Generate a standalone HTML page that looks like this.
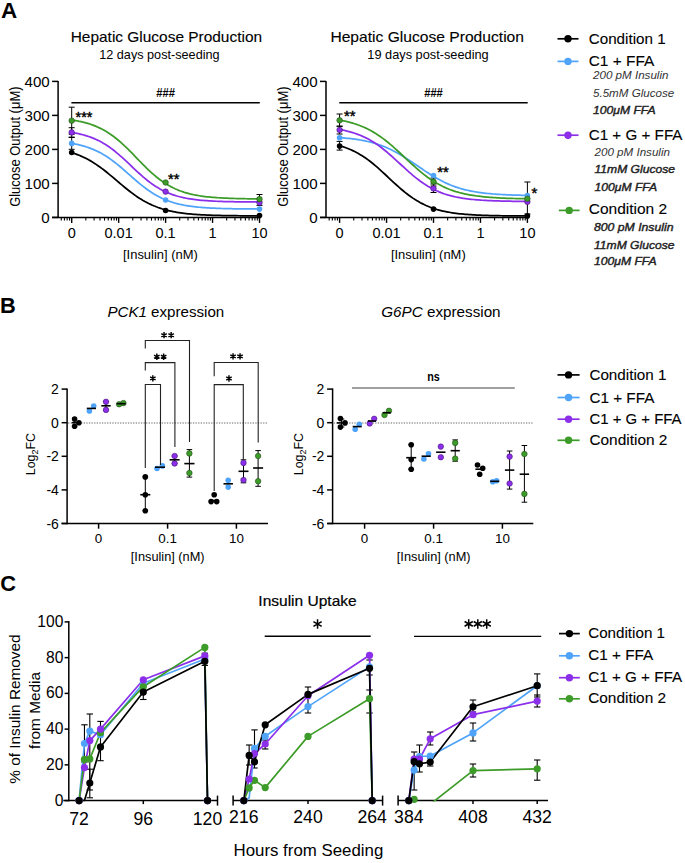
<!DOCTYPE html>
<html><head><meta charset="utf-8"><style>
html,body{margin:0;padding:0;background:#fff;}
svg{display:block;font-family:"Liberation Sans", sans-serif;}
</style></head><body>
<svg width="685" height="863" viewBox="0 0 685 863">
<rect width="685" height="863" fill="#fff"/>
<text x="1.00" y="17.60" font-size="22" text-anchor="start" font-weight="bold" font-style="normal" fill="#000000" textLength="16.2" lengthAdjust="spacingAndGlyphs" >A</text>
<text x="0.10" y="312.50" font-size="21.8" text-anchor="start" font-weight="bold" font-style="normal" fill="#000000" >B</text>
<text x="0.20" y="591.30" font-size="21.8" text-anchor="start" font-weight="bold" font-style="normal" fill="#000000" >C</text>
<text x="70.70" y="41.80" font-size="14.2" text-anchor="start" font-weight="normal" font-style="normal" fill="#000000" textLength="191.4" lengthAdjust="spacingAndGlyphs" stroke="#000" stroke-width="0.12">Hepatic Glucose Production</text>
<text x="99.20" y="58.50" font-size="12.8" text-anchor="start" font-weight="normal" font-style="normal" fill="#000000" textLength="120.4" lengthAdjust="spacingAndGlyphs" >12 days post-seeding</text>
<text transform="translate(20.30,146.70) rotate(-90)" font-size="14" text-anchor="middle" fill="#000000" textLength="120.3" lengthAdjust="spacingAndGlyphs">Glucose Output (μM)</text>
<line x1="58.10" y1="80.90" x2="58.10" y2="218.10" stroke="#000000" stroke-width="1.5" />
<line x1="52.10" y1="217.40" x2="260.20" y2="217.40" stroke="#000000" stroke-width="1.5" />
<line x1="52.10" y1="217.40" x2="58.10" y2="217.40" stroke="#000000" stroke-width="1.5" />
<text x="49.70" y="222.50" font-size="15.1" text-anchor="end" font-weight="normal" font-style="normal" fill="#000000" >0</text>
<line x1="52.10" y1="183.40" x2="58.10" y2="183.40" stroke="#000000" stroke-width="1.5" />
<text x="49.70" y="188.50" font-size="15.1" text-anchor="end" font-weight="normal" font-style="normal" fill="#000000" >100</text>
<line x1="52.10" y1="149.40" x2="58.10" y2="149.40" stroke="#000000" stroke-width="1.5" />
<text x="49.70" y="154.50" font-size="15.1" text-anchor="end" font-weight="normal" font-style="normal" fill="#000000" >200</text>
<line x1="52.10" y1="115.40" x2="58.10" y2="115.40" stroke="#000000" stroke-width="1.5" />
<text x="49.70" y="120.50" font-size="15.1" text-anchor="end" font-weight="normal" font-style="normal" fill="#000000" >300</text>
<line x1="52.10" y1="81.40" x2="58.10" y2="81.40" stroke="#000000" stroke-width="1.5" />
<text x="49.70" y="86.50" font-size="15.1" text-anchor="end" font-weight="normal" font-style="normal" fill="#000000" >400</text>
<line x1="61.28" y1="217.40" x2="61.28" y2="220.60" stroke="#000000" stroke-width="1.1" />
<line x1="64.43" y1="217.40" x2="64.43" y2="220.60" stroke="#000000" stroke-width="1.1" />
<line x1="67.15" y1="217.40" x2="67.15" y2="220.60" stroke="#000000" stroke-width="1.1" />
<line x1="69.55" y1="217.40" x2="69.55" y2="220.60" stroke="#000000" stroke-width="1.1" />
<line x1="71.70" y1="217.40" x2="71.70" y2="222.90" stroke="#000000" stroke-width="1.4" />
<line x1="85.83" y1="217.40" x2="85.83" y2="220.60" stroke="#000000" stroke-width="1.1" />
<line x1="94.10" y1="217.40" x2="94.10" y2="220.60" stroke="#000000" stroke-width="1.1" />
<line x1="99.97" y1="217.40" x2="99.97" y2="220.60" stroke="#000000" stroke-width="1.1" />
<line x1="104.52" y1="217.40" x2="104.52" y2="220.60" stroke="#000000" stroke-width="1.1" />
<line x1="108.23" y1="217.40" x2="108.23" y2="220.60" stroke="#000000" stroke-width="1.1" />
<line x1="111.38" y1="217.40" x2="111.38" y2="220.60" stroke="#000000" stroke-width="1.1" />
<line x1="114.10" y1="217.40" x2="114.10" y2="220.60" stroke="#000000" stroke-width="1.1" />
<line x1="116.50" y1="217.40" x2="116.50" y2="220.60" stroke="#000000" stroke-width="1.1" />
<line x1="118.65" y1="217.40" x2="118.65" y2="222.90" stroke="#000000" stroke-width="1.4" />
<line x1="132.78" y1="217.40" x2="132.78" y2="220.60" stroke="#000000" stroke-width="1.1" />
<line x1="141.05" y1="217.40" x2="141.05" y2="220.60" stroke="#000000" stroke-width="1.1" />
<line x1="146.92" y1="217.40" x2="146.92" y2="220.60" stroke="#000000" stroke-width="1.1" />
<line x1="151.47" y1="217.40" x2="151.47" y2="220.60" stroke="#000000" stroke-width="1.1" />
<line x1="155.18" y1="217.40" x2="155.18" y2="220.60" stroke="#000000" stroke-width="1.1" />
<line x1="158.33" y1="217.40" x2="158.33" y2="220.60" stroke="#000000" stroke-width="1.1" />
<line x1="161.05" y1="217.40" x2="161.05" y2="220.60" stroke="#000000" stroke-width="1.1" />
<line x1="163.45" y1="217.40" x2="163.45" y2="220.60" stroke="#000000" stroke-width="1.1" />
<line x1="165.60" y1="217.40" x2="165.60" y2="222.90" stroke="#000000" stroke-width="1.4" />
<line x1="179.73" y1="217.40" x2="179.73" y2="220.60" stroke="#000000" stroke-width="1.1" />
<line x1="188.00" y1="217.40" x2="188.00" y2="220.60" stroke="#000000" stroke-width="1.1" />
<line x1="193.87" y1="217.40" x2="193.87" y2="220.60" stroke="#000000" stroke-width="1.1" />
<line x1="198.42" y1="217.40" x2="198.42" y2="220.60" stroke="#000000" stroke-width="1.1" />
<line x1="202.13" y1="217.40" x2="202.13" y2="220.60" stroke="#000000" stroke-width="1.1" />
<line x1="205.28" y1="217.40" x2="205.28" y2="220.60" stroke="#000000" stroke-width="1.1" />
<line x1="208.00" y1="217.40" x2="208.00" y2="220.60" stroke="#000000" stroke-width="1.1" />
<line x1="210.40" y1="217.40" x2="210.40" y2="220.60" stroke="#000000" stroke-width="1.1" />
<line x1="212.55" y1="217.40" x2="212.55" y2="222.90" stroke="#000000" stroke-width="1.4" />
<line x1="226.68" y1="217.40" x2="226.68" y2="220.60" stroke="#000000" stroke-width="1.1" />
<line x1="234.95" y1="217.40" x2="234.95" y2="220.60" stroke="#000000" stroke-width="1.1" />
<line x1="240.82" y1="217.40" x2="240.82" y2="220.60" stroke="#000000" stroke-width="1.1" />
<line x1="245.37" y1="217.40" x2="245.37" y2="220.60" stroke="#000000" stroke-width="1.1" />
<line x1="249.08" y1="217.40" x2="249.08" y2="220.60" stroke="#000000" stroke-width="1.1" />
<line x1="252.23" y1="217.40" x2="252.23" y2="220.60" stroke="#000000" stroke-width="1.1" />
<line x1="254.95" y1="217.40" x2="254.95" y2="220.60" stroke="#000000" stroke-width="1.1" />
<line x1="257.35" y1="217.40" x2="257.35" y2="220.60" stroke="#000000" stroke-width="1.1" />
<line x1="259.50" y1="217.40" x2="259.50" y2="222.90" stroke="#000000" stroke-width="1.4" />
<text x="71.70" y="238.00" font-size="14.5" text-anchor="middle" font-weight="normal" font-style="normal" fill="#000000" >0</text>
<text x="118.65" y="238.00" font-size="14.5" text-anchor="middle" font-weight="normal" font-style="normal" fill="#000000" >0.01</text>
<text x="165.60" y="238.00" font-size="14.5" text-anchor="middle" font-weight="normal" font-style="normal" fill="#000000" >0.1</text>
<text x="212.55" y="238.00" font-size="14.5" text-anchor="middle" font-weight="normal" font-style="normal" fill="#000000" >1</text>
<text x="259.50" y="238.00" font-size="14.5" text-anchor="middle" font-weight="normal" font-style="normal" fill="#000000" >10</text>
<text x="160.40" y="258.50" font-size="13.2" text-anchor="middle" font-weight="normal" font-style="normal" fill="#000000" textLength="74.8" lengthAdjust="spacingAndGlyphs" >[Insulin] (nM)</text>
<line x1="71.40" y1="102.70" x2="259.80" y2="102.70" stroke="#000000" stroke-width="1.4" />
<text x="165.60" y="96.60" font-size="12.5" text-anchor="middle" font-weight="bold" font-style="normal" fill="#000000" textLength="18.6" lengthAdjust="spacingAndGlyphs" >###</text>
<line x1="71.70" y1="107.20" x2="71.70" y2="134.20" stroke="#000000" stroke-width="1.0" />
<line x1="68.70" y1="107.20" x2="74.70" y2="107.20" stroke="#000000" stroke-width="1.0" />
<line x1="68.70" y1="134.20" x2="74.70" y2="134.20" stroke="#000000" stroke-width="1.0" />
<line x1="71.70" y1="127.70" x2="71.70" y2="137.10" stroke="#000000" stroke-width="1.0" />
<line x1="68.70" y1="127.70" x2="74.70" y2="127.70" stroke="#000000" stroke-width="1.0" />
<line x1="68.70" y1="137.10" x2="74.70" y2="137.10" stroke="#000000" stroke-width="1.0" />
<line x1="71.70" y1="137.50" x2="71.70" y2="149.30" stroke="#000000" stroke-width="1.0" />
<line x1="68.70" y1="137.50" x2="74.70" y2="137.50" stroke="#000000" stroke-width="1.0" />
<line x1="68.70" y1="149.30" x2="74.70" y2="149.30" stroke="#000000" stroke-width="1.0" />
<line x1="259.50" y1="194.50" x2="259.50" y2="205.40" stroke="#000000" stroke-width="1.0" />
<line x1="256.50" y1="194.50" x2="262.50" y2="194.50" stroke="#000000" stroke-width="1.0" />
<line x1="256.50" y1="205.40" x2="262.50" y2="205.40" stroke="#000000" stroke-width="1.0" />
<path d="M71.70,152.62 L73.58,153.23 L75.46,153.87 L77.33,154.57 L79.21,155.31 L81.09,156.10 L82.97,156.95 L84.85,157.84 L86.72,158.80 L88.60,159.81 L90.48,160.87 L92.36,161.99 L94.24,163.16 L96.11,164.39 L97.99,165.67 L99.87,167.01 L101.75,168.39 L103.63,169.81 L105.50,171.28 L107.38,172.78 L109.26,174.31 L111.14,175.87 L113.02,177.45 L114.89,179.04 L116.77,180.64 L118.65,182.24 L120.53,183.83 L122.41,185.41 L124.28,186.97 L126.16,188.51 L128.04,190.01 L129.92,191.48 L131.80,192.91 L133.67,194.30 L135.55,195.63 L137.43,196.92 L139.31,198.15 L141.19,199.33 L143.06,200.46 L144.94,201.53 L146.82,202.54 L148.70,203.50 L150.58,204.40 L152.45,205.25 L154.33,206.05 L156.21,206.80 L158.09,207.50 L159.97,208.15 L161.84,208.76 L163.72,209.32 L165.60,209.85 L167.48,210.34 L169.36,210.79 L171.23,211.20 L173.11,211.59 L174.99,211.95 L176.87,212.28 L178.75,212.58 L180.62,212.86 L182.50,213.12 L184.38,213.35 L186.26,213.57 L188.14,213.77 L190.01,213.95 L191.89,214.12 L193.77,214.28 L195.65,214.42 L197.53,214.55 L199.40,214.67 L201.28,214.78 L203.16,214.88 L205.04,214.97 L206.92,215.05 L208.79,215.13 L210.67,215.20 L212.55,215.26 L214.43,215.32 L216.31,215.37 L218.18,215.42 L220.06,215.47 L221.94,215.51 L223.82,215.55 L225.70,215.58 L227.57,215.61 L229.45,215.64 L231.33,215.67 L233.21,215.69 L235.09,215.71 L236.96,215.73 L238.84,215.75 L240.72,215.77 L242.60,215.78 L244.48,215.80 L246.35,215.81 L248.23,215.82 L250.11,215.83 L251.99,215.84 L253.87,215.85 L255.74,215.86 L257.62,215.87 L259.50,215.87" fill="none" stroke="#000000" stroke-width="1.75"/>
<path d="M71.70,143.40 L73.58,143.73 L75.46,144.09 L77.33,144.48 L79.21,144.91 L81.09,145.37 L82.97,145.88 L84.85,146.42 L86.72,147.01 L88.60,147.64 L90.48,148.33 L92.36,149.06 L94.24,149.85 L96.11,150.70 L97.99,151.60 L99.87,152.57 L101.75,153.59 L103.63,154.68 L105.50,155.82 L107.38,157.03 L109.26,158.30 L111.14,159.63 L113.02,161.01 L114.89,162.44 L116.77,163.93 L118.65,165.46 L120.53,167.02 L122.41,168.62 L124.28,170.25 L126.16,171.90 L128.04,173.55 L129.92,175.22 L131.80,176.88 L133.67,178.52 L135.55,180.15 L137.43,181.76 L139.31,183.33 L141.19,184.87 L143.06,186.36 L144.94,187.80 L146.82,189.19 L148.70,190.53 L150.58,191.80 L152.45,193.02 L154.33,194.17 L156.21,195.27 L158.09,196.30 L159.97,197.27 L161.84,198.19 L163.72,199.04 L165.60,199.84 L167.48,200.58 L169.36,201.28 L171.23,201.92 L173.11,202.51 L174.99,203.07 L176.87,203.57 L178.75,204.04 L180.62,204.48 L182.50,204.87 L184.38,205.24 L186.26,205.57 L188.14,205.88 L190.01,206.16 L191.89,206.42 L193.77,206.66 L195.65,206.87 L197.53,207.07 L199.40,207.25 L201.28,207.42 L203.16,207.57 L205.04,207.71 L206.92,207.83 L208.79,207.94 L210.67,208.05 L212.55,208.14 L214.43,208.23 L216.31,208.31 L218.18,208.38 L220.06,208.44 L221.94,208.50 L223.82,208.56 L225.70,208.61 L227.57,208.65 L229.45,208.69 L231.33,208.73 L233.21,208.76 L235.09,208.79 L236.96,208.82 L238.84,208.84 L240.72,208.87 L242.60,208.89 L244.48,208.91 L246.35,208.92 L248.23,208.94 L250.11,208.95 L251.99,208.97 L253.87,208.98 L255.74,208.99 L257.62,209.00 L259.50,209.01" fill="none" stroke="#4fa4fa" stroke-width="1.75"/>
<path d="M71.70,132.42 L73.58,132.73 L75.46,133.07 L77.33,133.44 L79.21,133.84 L81.09,134.29 L82.97,134.77 L84.85,135.29 L86.72,135.85 L88.60,136.47 L90.48,137.13 L92.36,137.85 L94.24,138.62 L96.11,139.45 L97.99,140.34 L99.87,141.29 L101.75,142.31 L103.63,143.39 L105.50,144.54 L107.38,145.76 L109.26,147.04 L111.14,148.39 L113.02,149.81 L114.89,151.28 L116.77,152.82 L118.65,154.41 L120.53,156.04 L122.41,157.72 L124.28,159.44 L126.16,161.18 L128.04,162.95 L129.92,164.73 L131.80,166.51 L133.67,168.29 L135.55,170.05 L137.43,171.80 L139.31,173.52 L141.19,175.20 L143.06,176.84 L144.94,178.43 L146.82,179.96 L148.70,181.44 L150.58,182.86 L152.45,184.21 L154.33,185.50 L156.21,186.72 L158.09,187.87 L159.97,188.96 L161.84,189.98 L163.72,190.94 L165.60,191.83 L167.48,192.66 L169.36,193.44 L171.23,194.16 L173.11,194.82 L174.99,195.44 L176.87,196.01 L178.75,196.53 L180.62,197.01 L182.50,197.46 L184.38,197.86 L186.26,198.24 L188.14,198.58 L190.01,198.89 L191.89,199.18 L193.77,199.44 L195.65,199.68 L197.53,199.90 L199.40,200.10 L201.28,200.28 L203.16,200.44 L205.04,200.59 L206.92,200.73 L208.79,200.85 L210.67,200.97 L212.55,201.07 L214.43,201.16 L216.31,201.25 L218.18,201.33 L220.06,201.40 L221.94,201.46 L223.82,201.52 L225.70,201.57 L227.57,201.62 L229.45,201.66 L231.33,201.70 L233.21,201.74 L235.09,201.77 L236.96,201.80 L238.84,201.83 L240.72,201.85 L242.60,201.87 L244.48,201.89 L246.35,201.91 L248.23,201.93 L250.11,201.94 L251.99,201.96 L253.87,201.97 L255.74,201.98 L257.62,201.99 L259.50,202.00" fill="none" stroke="#8b2fea" stroke-width="1.75"/>
<path d="M71.70,120.03 L73.58,120.31 L75.46,120.62 L77.33,120.96 L79.21,121.32 L81.09,121.72 L82.97,122.15 L84.85,122.63 L86.72,123.14 L88.60,123.69 L90.48,124.29 L92.36,124.94 L94.24,125.64 L96.11,126.40 L97.99,127.21 L99.87,128.09 L101.75,129.02 L103.63,130.03 L105.50,131.10 L107.38,132.23 L109.26,133.44 L111.14,134.72 L113.02,136.07 L114.89,137.49 L116.77,138.98 L118.65,140.54 L120.53,142.16 L122.41,143.85 L124.28,145.59 L126.16,147.38 L128.04,149.21 L129.92,151.09 L131.80,152.99 L133.67,154.92 L135.55,156.86 L137.43,158.80 L139.31,160.74 L141.19,162.68 L143.06,164.59 L144.94,166.47 L146.82,168.31 L148.70,170.11 L150.58,171.87 L152.45,173.56 L154.33,175.20 L156.21,176.78 L158.09,178.28 L159.97,179.72 L161.84,181.09 L163.72,182.39 L165.60,183.61 L167.48,184.77 L169.36,185.86 L171.23,186.87 L173.11,187.83 L174.99,188.72 L176.87,189.55 L178.75,190.32 L180.62,191.03 L182.50,191.69 L184.38,192.31 L186.26,192.87 L188.14,193.39 L190.01,193.88 L191.89,194.32 L193.77,194.73 L195.65,195.10 L197.53,195.44 L199.40,195.76 L201.28,196.05 L203.16,196.31 L205.04,196.55 L206.92,196.77 L208.79,196.98 L210.67,197.16 L212.55,197.33 L214.43,197.48 L216.31,197.63 L218.18,197.75 L220.06,197.87 L221.94,197.98 L223.82,198.08 L225.70,198.16 L227.57,198.24 L229.45,198.32 L231.33,198.39 L233.21,198.45 L235.09,198.50 L236.96,198.55 L238.84,198.60 L240.72,198.64 L242.60,198.68 L244.48,198.71 L246.35,198.75 L248.23,198.78 L250.11,198.80 L251.99,198.83 L253.87,198.85 L255.74,198.87 L257.62,198.88 L259.50,198.90" fill="none" stroke="#3d9c29" stroke-width="1.75"/>
<circle cx="71.70" cy="152.50" r="2.8" fill="#000000"/>
<circle cx="165.60" cy="210.50" r="2.8" fill="#000000"/>
<circle cx="259.50" cy="215.60" r="2.8" fill="#000000"/>
<circle cx="71.70" cy="143.40" r="2.8" fill="#4fa4fa"/>
<circle cx="165.60" cy="200.00" r="2.8" fill="#4fa4fa"/>
<circle cx="259.50" cy="209.10" r="2.8" fill="#4fa4fa"/>
<circle cx="71.70" cy="132.40" r="2.8" fill="#8b2fea" stroke="#3a1060" stroke-width="0.5"/>
<circle cx="165.60" cy="191.60" r="2.8" fill="#8b2fea" stroke="#3a1060" stroke-width="0.5"/>
<circle cx="259.50" cy="202.60" r="2.8" fill="#8b2fea" stroke="#3a1060" stroke-width="0.5"/>
<circle cx="71.70" cy="120.70" r="2.8" fill="#3d9c29" stroke="#1a3d10" stroke-width="0.5"/>
<circle cx="165.60" cy="182.50" r="2.8" fill="#3d9c29" stroke="#1a3d10" stroke-width="0.5"/>
<circle cx="259.50" cy="199.10" r="2.8" fill="#3d9c29" stroke="#1a3d10" stroke-width="0.5"/>
<text x="75.60" y="121.70" font-size="14.3" text-anchor="start" font-weight="normal" font-style="normal" fill="#000000" stroke="#000" stroke-width="0.45">***</text>
<text x="168.00" y="184.10" font-size="14.6" text-anchor="start" font-weight="normal" font-style="normal" fill="#000000" stroke="#000" stroke-width="0.45">**</text>
<text x="330.40" y="41.80" font-size="14.2" text-anchor="start" font-weight="normal" font-style="normal" fill="#000000" textLength="193.6" lengthAdjust="spacingAndGlyphs" stroke="#000" stroke-width="0.12">Hepatic Glucose Production</text>
<text x="367.30" y="58.50" font-size="12.8" text-anchor="start" font-weight="normal" font-style="normal" fill="#000000" textLength="121.4" lengthAdjust="spacingAndGlyphs" >19 days post-seeding</text>
<text transform="translate(287.66,146.70) rotate(-90)" font-size="14" text-anchor="middle" fill="#000000" textLength="120.3" lengthAdjust="spacingAndGlyphs">Glucose Output (μM)</text>
<line x1="326.00" y1="80.90" x2="326.00" y2="218.10" stroke="#000000" stroke-width="1.5" />
<line x1="320.00" y1="217.40" x2="528.10" y2="217.40" stroke="#000000" stroke-width="1.5" />
<line x1="320.00" y1="217.40" x2="326.00" y2="217.40" stroke="#000000" stroke-width="1.5" />
<text x="317.60" y="222.50" font-size="15.1" text-anchor="end" font-weight="normal" font-style="normal" fill="#000000" >0</text>
<line x1="320.00" y1="183.40" x2="326.00" y2="183.40" stroke="#000000" stroke-width="1.5" />
<text x="317.60" y="188.50" font-size="15.1" text-anchor="end" font-weight="normal" font-style="normal" fill="#000000" >100</text>
<line x1="320.00" y1="149.40" x2="326.00" y2="149.40" stroke="#000000" stroke-width="1.5" />
<text x="317.60" y="154.50" font-size="15.1" text-anchor="end" font-weight="normal" font-style="normal" fill="#000000" >200</text>
<line x1="320.00" y1="115.40" x2="326.00" y2="115.40" stroke="#000000" stroke-width="1.5" />
<text x="317.60" y="120.50" font-size="15.1" text-anchor="end" font-weight="normal" font-style="normal" fill="#000000" >300</text>
<line x1="320.00" y1="81.40" x2="326.00" y2="81.40" stroke="#000000" stroke-width="1.5" />
<text x="317.60" y="86.50" font-size="15.1" text-anchor="end" font-weight="normal" font-style="normal" fill="#000000" >400</text>
<line x1="329.18" y1="217.40" x2="329.18" y2="220.60" stroke="#000000" stroke-width="1.1" />
<line x1="332.33" y1="217.40" x2="332.33" y2="220.60" stroke="#000000" stroke-width="1.1" />
<line x1="335.05" y1="217.40" x2="335.05" y2="220.60" stroke="#000000" stroke-width="1.1" />
<line x1="337.45" y1="217.40" x2="337.45" y2="220.60" stroke="#000000" stroke-width="1.1" />
<line x1="339.60" y1="217.40" x2="339.60" y2="222.90" stroke="#000000" stroke-width="1.4" />
<line x1="353.73" y1="217.40" x2="353.73" y2="220.60" stroke="#000000" stroke-width="1.1" />
<line x1="362.00" y1="217.40" x2="362.00" y2="220.60" stroke="#000000" stroke-width="1.1" />
<line x1="367.87" y1="217.40" x2="367.87" y2="220.60" stroke="#000000" stroke-width="1.1" />
<line x1="372.42" y1="217.40" x2="372.42" y2="220.60" stroke="#000000" stroke-width="1.1" />
<line x1="376.13" y1="217.40" x2="376.13" y2="220.60" stroke="#000000" stroke-width="1.1" />
<line x1="379.28" y1="217.40" x2="379.28" y2="220.60" stroke="#000000" stroke-width="1.1" />
<line x1="382.00" y1="217.40" x2="382.00" y2="220.60" stroke="#000000" stroke-width="1.1" />
<line x1="384.40" y1="217.40" x2="384.40" y2="220.60" stroke="#000000" stroke-width="1.1" />
<line x1="386.55" y1="217.40" x2="386.55" y2="222.90" stroke="#000000" stroke-width="1.4" />
<line x1="400.68" y1="217.40" x2="400.68" y2="220.60" stroke="#000000" stroke-width="1.1" />
<line x1="408.95" y1="217.40" x2="408.95" y2="220.60" stroke="#000000" stroke-width="1.1" />
<line x1="414.82" y1="217.40" x2="414.82" y2="220.60" stroke="#000000" stroke-width="1.1" />
<line x1="419.37" y1="217.40" x2="419.37" y2="220.60" stroke="#000000" stroke-width="1.1" />
<line x1="423.08" y1="217.40" x2="423.08" y2="220.60" stroke="#000000" stroke-width="1.1" />
<line x1="426.23" y1="217.40" x2="426.23" y2="220.60" stroke="#000000" stroke-width="1.1" />
<line x1="428.95" y1="217.40" x2="428.95" y2="220.60" stroke="#000000" stroke-width="1.1" />
<line x1="431.35" y1="217.40" x2="431.35" y2="220.60" stroke="#000000" stroke-width="1.1" />
<line x1="433.50" y1="217.40" x2="433.50" y2="222.90" stroke="#000000" stroke-width="1.4" />
<line x1="447.63" y1="217.40" x2="447.63" y2="220.60" stroke="#000000" stroke-width="1.1" />
<line x1="455.90" y1="217.40" x2="455.90" y2="220.60" stroke="#000000" stroke-width="1.1" />
<line x1="461.77" y1="217.40" x2="461.77" y2="220.60" stroke="#000000" stroke-width="1.1" />
<line x1="466.32" y1="217.40" x2="466.32" y2="220.60" stroke="#000000" stroke-width="1.1" />
<line x1="470.03" y1="217.40" x2="470.03" y2="220.60" stroke="#000000" stroke-width="1.1" />
<line x1="473.18" y1="217.40" x2="473.18" y2="220.60" stroke="#000000" stroke-width="1.1" />
<line x1="475.90" y1="217.40" x2="475.90" y2="220.60" stroke="#000000" stroke-width="1.1" />
<line x1="478.30" y1="217.40" x2="478.30" y2="220.60" stroke="#000000" stroke-width="1.1" />
<line x1="480.45" y1="217.40" x2="480.45" y2="222.90" stroke="#000000" stroke-width="1.4" />
<line x1="494.58" y1="217.40" x2="494.58" y2="220.60" stroke="#000000" stroke-width="1.1" />
<line x1="502.85" y1="217.40" x2="502.85" y2="220.60" stroke="#000000" stroke-width="1.1" />
<line x1="508.72" y1="217.40" x2="508.72" y2="220.60" stroke="#000000" stroke-width="1.1" />
<line x1="513.27" y1="217.40" x2="513.27" y2="220.60" stroke="#000000" stroke-width="1.1" />
<line x1="516.98" y1="217.40" x2="516.98" y2="220.60" stroke="#000000" stroke-width="1.1" />
<line x1="520.13" y1="217.40" x2="520.13" y2="220.60" stroke="#000000" stroke-width="1.1" />
<line x1="522.85" y1="217.40" x2="522.85" y2="220.60" stroke="#000000" stroke-width="1.1" />
<line x1="525.25" y1="217.40" x2="525.25" y2="220.60" stroke="#000000" stroke-width="1.1" />
<line x1="527.40" y1="217.40" x2="527.40" y2="222.90" stroke="#000000" stroke-width="1.4" />
<text x="339.60" y="238.00" font-size="14.5" text-anchor="middle" font-weight="normal" font-style="normal" fill="#000000" >0</text>
<text x="386.55" y="238.00" font-size="14.5" text-anchor="middle" font-weight="normal" font-style="normal" fill="#000000" >0.01</text>
<text x="433.50" y="238.00" font-size="14.5" text-anchor="middle" font-weight="normal" font-style="normal" fill="#000000" >0.1</text>
<text x="480.45" y="238.00" font-size="14.5" text-anchor="middle" font-weight="normal" font-style="normal" fill="#000000" >1</text>
<text x="527.40" y="238.00" font-size="14.5" text-anchor="middle" font-weight="normal" font-style="normal" fill="#000000" >10</text>
<text x="428.30" y="258.50" font-size="13.2" text-anchor="middle" font-weight="normal" font-style="normal" fill="#000000" textLength="74.8" lengthAdjust="spacingAndGlyphs" >[Insulin] (nM)</text>
<line x1="339.30" y1="102.70" x2="527.70" y2="102.70" stroke="#000000" stroke-width="1.4" />
<text x="433.50" y="96.60" font-size="12.5" text-anchor="middle" font-weight="bold" font-style="normal" fill="#000000" textLength="18.6" lengthAdjust="spacingAndGlyphs" >###</text>
<line x1="339.60" y1="114.00" x2="339.60" y2="126.60" stroke="#000000" stroke-width="1.0" />
<line x1="336.60" y1="114.00" x2="342.60" y2="114.00" stroke="#000000" stroke-width="1.0" />
<line x1="336.60" y1="126.60" x2="342.60" y2="126.60" stroke="#000000" stroke-width="1.0" />
<line x1="339.60" y1="126.00" x2="339.60" y2="134.00" stroke="#000000" stroke-width="1.0" />
<line x1="336.60" y1="126.00" x2="342.60" y2="126.00" stroke="#000000" stroke-width="1.0" />
<line x1="336.60" y1="134.00" x2="342.60" y2="134.00" stroke="#000000" stroke-width="1.0" />
<line x1="339.60" y1="141.40" x2="339.60" y2="150.10" stroke="#000000" stroke-width="1.0" />
<line x1="336.60" y1="141.40" x2="342.60" y2="141.40" stroke="#000000" stroke-width="1.0" />
<line x1="336.60" y1="150.10" x2="342.60" y2="150.10" stroke="#000000" stroke-width="1.0" />
<line x1="433.50" y1="178.00" x2="433.50" y2="186.00" stroke="#000000" stroke-width="1.0" />
<line x1="430.50" y1="178.00" x2="436.50" y2="178.00" stroke="#000000" stroke-width="1.0" />
<line x1="430.50" y1="186.00" x2="436.50" y2="186.00" stroke="#000000" stroke-width="1.0" />
<line x1="433.50" y1="184.00" x2="433.50" y2="192.50" stroke="#000000" stroke-width="1.0" />
<line x1="430.50" y1="184.00" x2="436.50" y2="184.00" stroke="#000000" stroke-width="1.0" />
<line x1="430.50" y1="192.50" x2="436.50" y2="192.50" stroke="#000000" stroke-width="1.0" />
<line x1="527.40" y1="182.00" x2="527.40" y2="214.00" stroke="#000000" stroke-width="1.0" />
<line x1="524.40" y1="182.00" x2="530.40" y2="182.00" stroke="#000000" stroke-width="1.0" />
<line x1="524.40" y1="214.00" x2="530.40" y2="214.00" stroke="#000000" stroke-width="1.0" />
<path d="M339.60,145.72 L341.48,146.28 L343.36,146.88 L345.23,147.53 L347.11,148.23 L348.99,148.98 L350.87,149.78 L352.75,150.64 L354.62,151.55 L356.50,152.53 L358.38,153.56 L360.26,154.66 L362.14,155.82 L364.01,157.04 L365.89,158.32 L367.77,159.66 L369.65,161.07 L371.53,162.53 L373.40,164.04 L375.28,165.60 L377.16,167.21 L379.04,168.87 L380.92,170.55 L382.79,172.27 L384.67,174.01 L386.55,175.76 L388.43,177.52 L390.31,179.28 L392.18,181.04 L394.06,182.78 L395.94,184.50 L397.82,186.19 L399.70,187.85 L401.57,189.47 L403.45,191.04 L405.33,192.57 L407.21,194.04 L409.09,195.45 L410.96,196.81 L412.84,198.11 L414.72,199.34 L416.60,200.51 L418.48,201.62 L420.35,202.67 L422.23,203.65 L424.11,204.58 L425.99,205.45 L427.87,206.26 L429.74,207.02 L431.62,207.73 L433.50,208.39 L435.38,209.00 L437.26,209.57 L439.13,210.09 L441.01,210.58 L442.89,211.03 L444.77,211.44 L446.65,211.83 L448.52,212.18 L450.40,212.51 L452.28,212.80 L454.16,213.08 L456.04,213.33 L457.91,213.56 L459.79,213.78 L461.67,213.97 L463.55,214.15 L465.43,214.32 L467.30,214.47 L469.18,214.60 L471.06,214.73 L472.94,214.84 L474.82,214.95 L476.69,215.05 L478.57,215.13 L480.45,215.21 L482.33,215.29 L484.21,215.36 L486.08,215.42 L487.96,215.47 L489.84,215.52 L491.72,215.57 L493.60,215.61 L495.47,215.65 L497.35,215.69 L499.23,215.72 L501.11,215.75 L502.99,215.78 L504.86,215.80 L506.74,215.83 L508.62,215.85 L510.50,215.87 L512.38,215.88 L514.25,215.90 L516.13,215.91 L518.01,215.93 L519.89,215.94 L521.77,215.95 L523.64,215.96 L525.52,215.97 L527.40,215.98" fill="none" stroke="#000000" stroke-width="1.75"/>
<path d="M339.60,137.62 L341.48,137.76 L343.36,137.92 L345.23,138.08 L347.11,138.27 L348.99,138.46 L350.87,138.67 L352.75,138.90 L354.62,139.15 L356.50,139.42 L358.38,139.70 L360.26,140.01 L362.14,140.35 L364.01,140.71 L365.89,141.10 L367.77,141.51 L369.65,141.96 L371.53,142.44 L373.40,142.95 L375.28,143.50 L377.16,144.09 L379.04,144.71 L380.92,145.37 L382.79,146.07 L384.67,146.81 L386.55,147.60 L388.43,148.43 L390.31,149.30 L392.18,150.21 L394.06,151.17 L395.94,152.16 L397.82,153.20 L399.70,154.28 L401.57,155.39 L403.45,156.54 L405.33,157.72 L407.21,158.92 L409.09,160.15 L410.96,161.40 L412.84,162.67 L414.72,163.95 L416.60,165.24 L418.48,166.53 L420.35,167.81 L422.23,169.09 L424.11,170.36 L425.99,171.61 L427.87,172.84 L429.74,174.05 L431.62,175.23 L433.50,176.38 L435.38,177.49 L437.26,178.56 L439.13,179.60 L441.01,180.60 L442.89,181.55 L444.77,182.47 L446.65,183.34 L448.52,184.17 L450.40,184.95 L452.28,185.69 L454.16,186.40 L456.04,187.06 L457.91,187.68 L459.79,188.26 L461.67,188.81 L463.55,189.32 L465.43,189.80 L467.30,190.25 L469.18,190.67 L471.06,191.06 L472.94,191.42 L474.82,191.75 L476.69,192.06 L478.57,192.35 L480.45,192.62 L482.33,192.87 L484.21,193.09 L486.08,193.31 L487.96,193.50 L489.84,193.68 L491.72,193.85 L493.60,194.00 L495.47,194.14 L497.35,194.27 L499.23,194.39 L501.11,194.50 L502.99,194.61 L504.86,194.70 L506.74,194.79 L508.62,194.87 L510.50,194.94 L512.38,195.01 L514.25,195.07 L516.13,195.12 L518.01,195.18 L519.89,195.22 L521.77,195.27 L523.64,195.31 L525.52,195.35 L527.40,195.38" fill="none" stroke="#4fa4fa" stroke-width="1.75"/>
<path d="M339.60,129.51 L341.48,129.86 L343.36,130.23 L345.23,130.64 L347.11,131.08 L348.99,131.55 L350.87,132.07 L352.75,132.62 L354.62,133.22 L356.50,133.86 L358.38,134.56 L360.26,135.30 L362.14,136.09 L364.01,136.94 L365.89,137.85 L367.77,138.81 L369.65,139.84 L371.53,140.92 L373.40,142.07 L375.28,143.28 L377.16,144.55 L379.04,145.88 L380.92,147.26 L382.79,148.71 L384.67,150.20 L386.55,151.75 L388.43,153.34 L390.31,154.97 L392.18,156.63 L394.06,158.33 L395.94,160.04 L397.82,161.77 L399.70,163.51 L401.57,165.25 L403.45,166.98 L405.33,168.70 L407.21,170.40 L409.09,172.07 L410.96,173.70 L412.84,175.30 L414.72,176.85 L416.60,178.36 L418.48,179.81 L420.35,181.20 L422.23,182.54 L424.11,183.82 L425.99,185.03 L427.87,186.19 L429.74,187.28 L431.62,188.32 L433.50,189.29 L435.38,190.21 L437.26,191.07 L439.13,191.87 L441.01,192.62 L442.89,193.32 L444.77,193.97 L446.65,194.57 L448.52,195.14 L450.40,195.66 L452.28,196.14 L454.16,196.58 L456.04,196.99 L457.91,197.37 L459.79,197.72 L461.67,198.04 L463.55,198.34 L465.43,198.61 L467.30,198.86 L469.18,199.09 L471.06,199.30 L472.94,199.50 L474.82,199.67 L476.69,199.84 L478.57,199.99 L480.45,200.12 L482.33,200.25 L484.21,200.36 L486.08,200.47 L487.96,200.56 L489.84,200.65 L491.72,200.73 L493.60,200.80 L495.47,200.87 L497.35,200.93 L499.23,200.99 L501.11,201.04 L502.99,201.08 L504.86,201.13 L506.74,201.16 L508.62,201.20 L510.50,201.23 L512.38,201.26 L514.25,201.29 L516.13,201.31 L518.01,201.34 L519.89,201.36 L521.77,201.38 L523.64,201.39 L525.52,201.41 L527.40,201.42" fill="none" stroke="#8b2fea" stroke-width="1.75"/>
<path d="M339.60,120.10 L341.48,120.45 L343.36,120.82 L345.23,121.22 L347.11,121.66 L348.99,122.12 L350.87,122.62 L352.75,123.16 L354.62,123.74 L356.50,124.36 L358.38,125.02 L360.26,125.73 L362.14,126.48 L364.01,127.29 L365.89,128.15 L367.77,129.06 L369.65,130.02 L371.53,131.04 L373.40,132.12 L375.28,133.25 L377.16,134.45 L379.04,135.70 L380.92,137.01 L382.79,138.37 L384.67,139.79 L386.55,141.26 L388.43,142.78 L390.31,144.35 L392.18,145.96 L394.06,147.61 L395.94,149.29 L397.82,151.00 L399.70,152.74 L401.57,154.49 L403.45,156.25 L405.33,158.02 L407.21,159.78 L409.09,161.54 L410.96,163.28 L412.84,165.01 L414.72,166.70 L416.60,168.37 L418.48,170.00 L420.35,171.58 L422.23,173.13 L424.11,174.62 L425.99,176.06 L427.87,177.45 L429.74,178.79 L431.62,180.06 L433.50,181.28 L435.38,182.44 L437.26,183.54 L439.13,184.59 L441.01,185.58 L442.89,186.52 L444.77,187.40 L446.65,188.22 L448.52,189.00 L450.40,189.73 L452.28,190.41 L454.16,191.05 L456.04,191.65 L457.91,192.20 L459.79,192.72 L461.67,193.20 L463.55,193.65 L465.43,194.07 L467.30,194.45 L469.18,194.81 L471.06,195.14 L472.94,195.45 L474.82,195.73 L476.69,196.00 L478.57,196.24 L480.45,196.46 L482.33,196.67 L484.21,196.86 L486.08,197.04 L487.96,197.20 L489.84,197.35 L491.72,197.49 L493.60,197.61 L495.47,197.73 L497.35,197.84 L499.23,197.94 L501.11,198.03 L502.99,198.11 L504.86,198.19 L506.74,198.26 L508.62,198.33 L510.50,198.39 L512.38,198.45 L514.25,198.50 L516.13,198.54 L518.01,198.59 L519.89,198.63 L521.77,198.66 L523.64,198.70 L525.52,198.73 L527.40,198.75" fill="none" stroke="#3d9c29" stroke-width="1.75"/>
<circle cx="339.60" cy="146.10" r="2.8" fill="#000000"/>
<circle cx="433.50" cy="209.10" r="2.8" fill="#000000"/>
<circle cx="527.40" cy="215.90" r="2.8" fill="#000000"/>
<circle cx="339.60" cy="137.80" r="2.8" fill="#4fa4fa"/>
<circle cx="433.50" cy="175.50" r="2.8" fill="#4fa4fa"/>
<circle cx="527.40" cy="195.50" r="2.8" fill="#4fa4fa"/>
<circle cx="339.60" cy="130.00" r="2.8" fill="#8b2fea" stroke="#3a1060" stroke-width="0.5"/>
<circle cx="433.50" cy="188.50" r="2.8" fill="#8b2fea" stroke="#3a1060" stroke-width="0.5"/>
<circle cx="527.40" cy="201.80" r="2.8" fill="#8b2fea" stroke="#3a1060" stroke-width="0.5"/>
<circle cx="339.60" cy="120.30" r="2.8" fill="#3d9c29" stroke="#1a3d10" stroke-width="0.5"/>
<circle cx="433.50" cy="181.60" r="2.8" fill="#3d9c29" stroke="#1a3d10" stroke-width="0.5"/>
<circle cx="527.40" cy="198.70" r="2.8" fill="#3d9c29" stroke="#1a3d10" stroke-width="0.5"/>
<text x="343.90" y="121.30" font-size="14.8" text-anchor="start" font-weight="normal" font-style="normal" fill="#000000" stroke="#000" stroke-width="0.45">**</text>
<text x="437.20" y="177.40" font-size="14.8" text-anchor="start" font-weight="normal" font-style="normal" fill="#000000" stroke="#000" stroke-width="0.45">**</text>
<text x="531.60" y="197.60" font-size="14.8" text-anchor="start" font-weight="normal" font-style="normal" fill="#000000" stroke="#000" stroke-width="0.45">*</text>
<line x1="557.50" y1="38.80" x2="578.50" y2="38.80" stroke="#000000" stroke-width="1.7" />
<circle cx="568.00" cy="38.80" r="3.7" fill="#000000"/>
<text x="588.70" y="44.00" font-size="14.2" text-anchor="start" font-weight="normal" font-style="normal" fill="#000000" textLength="77" lengthAdjust="spacingAndGlyphs" stroke="#000" stroke-width="0.1">Condition 1</text>
<line x1="557.50" y1="61.40" x2="578.50" y2="61.40" stroke="#4fa4fa" stroke-width="1.7" />
<circle cx="568.00" cy="61.40" r="3.7" fill="#4fa4fa"/>
<text x="588.70" y="66.00" font-size="14.2" text-anchor="start" font-weight="normal" font-style="normal" fill="#000000" textLength="65.6" lengthAdjust="spacingAndGlyphs" stroke="#000" stroke-width="0.1">C1 + FFA</text>
<text x="593.00" y="79.20" font-size="10.8" text-anchor="start" font-weight="normal" font-style="italic" fill="#333" textLength="75.5" lengthAdjust="spacingAndGlyphs" >200 pM Insulin</text>
<text x="593.00" y="96.90" font-size="10.8" text-anchor="start" font-weight="normal" font-style="italic" fill="#333" textLength="81.2" lengthAdjust="spacingAndGlyphs" >5.5mM Glucose</text>
<text x="593.00" y="114.10" font-size="10.8" text-anchor="start" font-weight="normal" font-style="italic" fill="#222" textLength="62.5" lengthAdjust="spacingAndGlyphs" stroke="#222" stroke-width="0.4">100μM FFA</text>
<line x1="557.50" y1="135.20" x2="578.50" y2="135.20" stroke="#8b2fea" stroke-width="1.7" />
<circle cx="568.00" cy="135.20" r="3.7" fill="#8b2fea"/>
<text x="588.70" y="140.30" font-size="14.2" text-anchor="start" font-weight="normal" font-style="normal" fill="#000000" textLength="93.8" lengthAdjust="spacingAndGlyphs" stroke="#000" stroke-width="0.1">C1 + G + FFA</text>
<text x="594.50" y="156.00" font-size="10.8" text-anchor="start" font-weight="normal" font-style="italic" fill="#333" textLength="75.5" lengthAdjust="spacingAndGlyphs" >200 pM Insulin</text>
<text x="594.50" y="173.40" font-size="10.8" text-anchor="start" font-weight="normal" font-style="italic" fill="#222" textLength="80.5" lengthAdjust="spacingAndGlyphs" stroke="#222" stroke-width="0.4">11mM Glucose</text>
<text x="594.50" y="190.80" font-size="10.8" text-anchor="start" font-weight="normal" font-style="italic" fill="#222" textLength="62.5" lengthAdjust="spacingAndGlyphs" stroke="#222" stroke-width="0.4">100μM FFA</text>
<line x1="558.80" y1="210.40" x2="579.60" y2="210.40" stroke="#3d9c29" stroke-width="1.7" />
<circle cx="569.20" cy="210.40" r="3.7" fill="#3d9c29"/>
<text x="588.70" y="214.30" font-size="14.2" text-anchor="start" font-weight="normal" font-style="normal" fill="#000000" textLength="78.5" lengthAdjust="spacingAndGlyphs" stroke="#000" stroke-width="0.1">Condition 2</text>
<text x="594.00" y="231.30" font-size="10.8" text-anchor="start" font-weight="normal" font-style="italic" fill="#222" textLength="79.5" lengthAdjust="spacingAndGlyphs" stroke="#222" stroke-width="0.4">800 pM Insulin</text>
<text x="594.00" y="248.70" font-size="10.8" text-anchor="start" font-weight="normal" font-style="italic" fill="#222" textLength="80.5" lengthAdjust="spacingAndGlyphs" stroke="#222" stroke-width="0.4">11mM Glucose</text>
<text x="594.00" y="265.40" font-size="10.8" text-anchor="start" font-weight="normal" font-style="italic" fill="#222" textLength="62.5" lengthAdjust="spacingAndGlyphs" stroke="#222" stroke-width="0.4">100μM FFA</text>
<text x="107.40" y="316.8" font-size="14.5" fill="#000" textLength="116.9" lengthAdjust="spacingAndGlyphs"><tspan font-style="italic">PCK1</tspan> expression</text>
<text transform="translate(34.90,454.1) rotate(-90)" font-size="13.2" text-anchor="middle" fill="#000" textLength="42.2" lengthAdjust="spacingAndGlyphs">Log<tspan font-size="9.5" dy="3.2">2</tspan><tspan dy="-3.2">FC</tspan></text>
<line x1="67.10" y1="388.40" x2="67.10" y2="524.20" stroke="#000000" stroke-width="1.5" />
<line x1="61.60" y1="523.50" x2="268.00" y2="523.50" stroke="#000000" stroke-width="1.5" />
<line x1="61.60" y1="389.10" x2="67.10" y2="389.10" stroke="#000000" stroke-width="1.5" />
<text x="58.90" y="394.10" font-size="14" text-anchor="end" font-weight="normal" font-style="normal" fill="#000000" >2</text>
<line x1="61.60" y1="422.70" x2="67.10" y2="422.70" stroke="#000000" stroke-width="1.5" />
<text x="58.90" y="427.70" font-size="14" text-anchor="end" font-weight="normal" font-style="normal" fill="#000000" >0</text>
<line x1="61.60" y1="456.30" x2="67.10" y2="456.30" stroke="#000000" stroke-width="1.5" />
<text x="58.90" y="461.30" font-size="14" text-anchor="end" font-weight="normal" font-style="normal" fill="#000000" >-2</text>
<line x1="61.60" y1="489.90" x2="67.10" y2="489.90" stroke="#000000" stroke-width="1.5" />
<text x="58.90" y="494.90" font-size="14" text-anchor="end" font-weight="normal" font-style="normal" fill="#000000" >-4</text>
<line x1="61.60" y1="523.50" x2="67.10" y2="523.50" stroke="#000000" stroke-width="1.5" />
<text x="58.90" y="528.50" font-size="14" text-anchor="end" font-weight="normal" font-style="normal" fill="#000000" >-6</text>
<line x1="68.10" y1="423.00" x2="268.00" y2="423.00" stroke="#999" stroke-width="1.3" stroke-dasharray="1.3,1.3"/>
<line x1="98.60" y1="523.50" x2="98.60" y2="528.70" stroke="#000000" stroke-width="1.5" />
<text x="98.60" y="543.10" font-size="13.4" text-anchor="middle" font-weight="normal" font-style="normal" fill="#000000" >0</text>
<line x1="167.60" y1="523.50" x2="167.60" y2="528.70" stroke="#000000" stroke-width="1.5" />
<text x="167.60" y="543.10" font-size="13.4" text-anchor="middle" font-weight="normal" font-style="normal" fill="#000000" >0.1</text>
<line x1="236.40" y1="523.50" x2="236.40" y2="528.70" stroke="#000000" stroke-width="1.5" />
<text x="236.40" y="543.10" font-size="13.4" text-anchor="middle" font-weight="normal" font-style="normal" fill="#000000" >10</text>
<text x="167.70" y="561.00" font-size="13.0" text-anchor="middle" font-weight="normal" font-style="normal" fill="#000000" textLength="73.8" lengthAdjust="spacingAndGlyphs" >[Insulin] (nM)</text>
<circle cx="74.60" cy="419.10" r="2.8" fill="#000000"/>
<circle cx="74.60" cy="426.30" r="2.8" fill="#000000"/>
<circle cx="78.90" cy="422.70" r="2.8" fill="#000000"/>
<line x1="71.80" y1="422.70" x2="80.80" y2="422.70" stroke="#000000" stroke-width="1.6" />
<circle cx="89.40" cy="410.90" r="2.8" fill="#4fa4fa"/>
<circle cx="93.70" cy="406.10" r="2.8" fill="#4fa4fa"/>
<line x1="86.80" y1="408.40" x2="96.00" y2="408.40" stroke="#000000" stroke-width="1.6" />
<line x1="106.00" y1="401.50" x2="106.00" y2="410.00" stroke="#000000" stroke-width="1.0" />
<line x1="103.20" y1="401.50" x2="108.80" y2="401.50" stroke="#000000" stroke-width="1.0" />
<line x1="103.20" y1="410.00" x2="108.80" y2="410.00" stroke="#000000" stroke-width="1.0" />
<circle cx="106.00" cy="401.80" r="2.8" fill="#8b2fea" stroke="#3a1060" stroke-width="0.5"/>
<circle cx="106.00" cy="409.90" r="2.8" fill="#8b2fea" stroke="#3a1060" stroke-width="0.5"/>
<line x1="101.30" y1="405.80" x2="110.70" y2="405.80" stroke="#000000" stroke-width="1.6" />
<circle cx="119.10" cy="404.30" r="2.8" fill="#3d9c29" stroke="#1a3d10" stroke-width="0.5"/>
<circle cx="123.40" cy="403.10" r="2.8" fill="#3d9c29" stroke="#1a3d10" stroke-width="0.5"/>
<line x1="116.70" y1="403.70" x2="125.70" y2="403.70" stroke="#000000" stroke-width="1.6" />
<line x1="145.30" y1="476.90" x2="145.30" y2="510.80" stroke="#000000" stroke-width="1.0" />
<line x1="142.50" y1="476.90" x2="148.10" y2="476.90" stroke="#000000" stroke-width="1.0" />
<line x1="142.50" y1="510.80" x2="148.10" y2="510.80" stroke="#000000" stroke-width="1.0" />
<circle cx="145.30" cy="476.90" r="2.8" fill="#000000"/>
<circle cx="145.30" cy="494.70" r="2.8" fill="#000000"/>
<circle cx="145.30" cy="510.80" r="2.8" fill="#000000"/>
<line x1="140.30" y1="494.70" x2="150.30" y2="494.70" stroke="#000000" stroke-width="1.6" />
<circle cx="157.00" cy="468.50" r="2.8" fill="#4fa4fa"/>
<circle cx="162.40" cy="465.90" r="2.8" fill="#4fa4fa"/>
<line x1="155.00" y1="467.20" x2="165.00" y2="467.20" stroke="#000000" stroke-width="1.6" />
<line x1="174.60" y1="456.00" x2="174.60" y2="463.40" stroke="#000000" stroke-width="1.0" />
<line x1="171.80" y1="456.00" x2="177.40" y2="456.00" stroke="#000000" stroke-width="1.0" />
<line x1="171.80" y1="463.40" x2="177.40" y2="463.40" stroke="#000000" stroke-width="1.0" />
<circle cx="174.60" cy="456.00" r="2.8" fill="#8b2fea" stroke="#3a1060" stroke-width="0.5"/>
<circle cx="174.60" cy="463.40" r="2.8" fill="#8b2fea" stroke="#3a1060" stroke-width="0.5"/>
<line x1="169.60" y1="459.80" x2="179.60" y2="459.80" stroke="#000000" stroke-width="1.6" />
<line x1="189.40" y1="449.60" x2="189.40" y2="477.10" stroke="#000000" stroke-width="1.0" />
<line x1="186.60" y1="449.60" x2="192.20" y2="449.60" stroke="#000000" stroke-width="1.0" />
<line x1="186.60" y1="477.10" x2="192.20" y2="477.10" stroke="#000000" stroke-width="1.0" />
<circle cx="189.40" cy="453.40" r="2.8" fill="#3d9c29" stroke="#1a3d10" stroke-width="0.5"/>
<circle cx="189.40" cy="473.00" r="2.8" fill="#3d9c29" stroke="#1a3d10" stroke-width="0.5"/>
<line x1="184.30" y1="463.60" x2="194.50" y2="463.60" stroke="#000000" stroke-width="1.6" />
<circle cx="214.20" cy="494.70" r="2.8" fill="#000000"/>
<circle cx="211.10" cy="501.60" r="2.8" fill="#000000"/>
<circle cx="216.70" cy="501.60" r="2.8" fill="#000000"/>
<line x1="209.70" y1="500.60" x2="218.70" y2="500.60" stroke="#000000" stroke-width="1.6" />
<circle cx="228.20" cy="480.20" r="2.8" fill="#4fa4fa"/>
<circle cx="228.20" cy="487.10" r="2.8" fill="#4fa4fa"/>
<line x1="223.50" y1="483.80" x2="232.90" y2="483.80" stroke="#000000" stroke-width="1.6" />
<line x1="243.50" y1="459.80" x2="243.50" y2="482.80" stroke="#000000" stroke-width="1.0" />
<line x1="240.70" y1="459.80" x2="246.30" y2="459.80" stroke="#000000" stroke-width="1.0" />
<line x1="240.70" y1="482.80" x2="246.30" y2="482.80" stroke="#000000" stroke-width="1.0" />
<circle cx="243.50" cy="462.90" r="2.8" fill="#8b2fea" stroke="#3a1060" stroke-width="0.5"/>
<circle cx="243.50" cy="480.00" r="2.8" fill="#8b2fea" stroke="#3a1060" stroke-width="0.5"/>
<line x1="238.50" y1="471.30" x2="248.50" y2="471.30" stroke="#000000" stroke-width="1.6" />
<line x1="258.10" y1="450.60" x2="258.10" y2="486.30" stroke="#000000" stroke-width="1.0" />
<line x1="255.30" y1="450.60" x2="260.90" y2="450.60" stroke="#000000" stroke-width="1.0" />
<line x1="255.30" y1="486.30" x2="260.90" y2="486.30" stroke="#000000" stroke-width="1.0" />
<circle cx="258.10" cy="456.00" r="2.8" fill="#3d9c29" stroke="#1a3d10" stroke-width="0.5"/>
<circle cx="258.10" cy="481.20" r="2.8" fill="#3d9c29" stroke="#1a3d10" stroke-width="0.5"/>
<line x1="253.10" y1="468.00" x2="263.10" y2="468.00" stroke="#000000" stroke-width="1.6" />
<path d="M145.30,468.00 L145.30,384.50 L160.50,384.50 L160.50,464.90" fill="none" stroke="#222" stroke-width="1.1"/>
<path d="M152.85,375.25V381.55M150.12,376.82L155.58,379.97M150.12,379.97L155.58,376.82" stroke="#000" stroke-width="1.45" fill="none"/>
<path d="M145.30,370.50 L145.30,362.60 L174.90,362.60 L174.90,447.00" fill="none" stroke="#222" stroke-width="1.1"/>
<path d="M156.85,353.60V359.90M154.12,355.18L159.58,358.32M154.12,358.32L159.58,355.18" stroke="#000" stroke-width="1.45" fill="none"/>
<path d="M163.65,353.60V359.90M160.92,355.18L166.38,358.32M160.92,358.32L166.38,355.18" stroke="#000" stroke-width="1.45" fill="none"/>
<path d="M145.30,348.60 L145.30,340.50 L189.50,340.50 L189.50,442.00" fill="none" stroke="#222" stroke-width="1.1"/>
<path d="M164.05,332.05V338.35M161.32,333.62L166.78,336.77M161.32,336.77L166.78,333.62" stroke="#000" stroke-width="1.45" fill="none"/>
<path d="M171.15,332.05V338.35M168.42,333.62L173.88,336.77M168.42,336.77L173.88,333.62" stroke="#000" stroke-width="1.45" fill="none"/>
<path d="M214.20,491.00 L214.20,384.60 L243.30,384.60 L243.30,459.80" fill="none" stroke="#222" stroke-width="1.1"/>
<path d="M228.95,375.35V381.65M226.22,376.93L231.68,380.07M226.22,380.07L231.68,376.93" stroke="#000" stroke-width="1.45" fill="none"/>
<path d="M214.20,376.30 L214.20,362.50 L258.20,362.50 L258.20,442.40" fill="none" stroke="#222" stroke-width="1.1"/>
<path d="M233.05,353.20V359.50M230.32,354.78L235.78,357.93M230.32,357.93L235.78,354.78" stroke="#000" stroke-width="1.45" fill="none"/>
<path d="M240.05,353.20V359.50M237.32,354.78L242.78,357.93M237.32,357.93L242.78,354.78" stroke="#000" stroke-width="1.45" fill="none"/>
<text x="381.20" y="316.8" font-size="14.5" fill="#000" textLength="119.4" lengthAdjust="spacingAndGlyphs"><tspan font-style="italic">G6PC</tspan> expression</text>
<text transform="translate(302.50,454.1) rotate(-90)" font-size="13.2" text-anchor="middle" fill="#000" textLength="42.2" lengthAdjust="spacingAndGlyphs">Log<tspan font-size="9.5" dy="3.2">2</tspan><tspan dy="-3.2">FC</tspan></text>
<line x1="332.60" y1="388.40" x2="332.60" y2="524.20" stroke="#000000" stroke-width="1.5" />
<line x1="327.10" y1="523.50" x2="533.30" y2="523.50" stroke="#000000" stroke-width="1.5" />
<line x1="327.10" y1="389.10" x2="332.60" y2="389.10" stroke="#000000" stroke-width="1.5" />
<text x="324.40" y="394.10" font-size="14" text-anchor="end" font-weight="normal" font-style="normal" fill="#000000" >2</text>
<line x1="327.10" y1="422.70" x2="332.60" y2="422.70" stroke="#000000" stroke-width="1.5" />
<text x="324.40" y="427.70" font-size="14" text-anchor="end" font-weight="normal" font-style="normal" fill="#000000" >0</text>
<line x1="327.10" y1="456.30" x2="332.60" y2="456.30" stroke="#000000" stroke-width="1.5" />
<text x="324.40" y="461.30" font-size="14" text-anchor="end" font-weight="normal" font-style="normal" fill="#000000" >-2</text>
<line x1="327.10" y1="489.90" x2="332.60" y2="489.90" stroke="#000000" stroke-width="1.5" />
<text x="324.40" y="494.90" font-size="14" text-anchor="end" font-weight="normal" font-style="normal" fill="#000000" >-4</text>
<line x1="327.10" y1="523.50" x2="332.60" y2="523.50" stroke="#000000" stroke-width="1.5" />
<text x="324.40" y="528.50" font-size="14" text-anchor="end" font-weight="normal" font-style="normal" fill="#000000" >-6</text>
<line x1="333.60" y1="423.00" x2="533.30" y2="423.00" stroke="#999" stroke-width="1.3" stroke-dasharray="1.3,1.3"/>
<line x1="364.60" y1="523.50" x2="364.60" y2="528.70" stroke="#000000" stroke-width="1.5" />
<text x="364.60" y="543.10" font-size="13.4" text-anchor="middle" font-weight="normal" font-style="normal" fill="#000000" >0</text>
<line x1="433.60" y1="523.50" x2="433.60" y2="528.70" stroke="#000000" stroke-width="1.5" />
<text x="433.60" y="543.10" font-size="13.4" text-anchor="middle" font-weight="normal" font-style="normal" fill="#000000" >0.1</text>
<line x1="502.40" y1="523.50" x2="502.40" y2="528.70" stroke="#000000" stroke-width="1.5" />
<text x="502.40" y="543.10" font-size="13.4" text-anchor="middle" font-weight="normal" font-style="normal" fill="#000000" >10</text>
<text x="433.70" y="561.00" font-size="13.0" text-anchor="middle" font-weight="normal" font-style="normal" fill="#000000" textLength="73.8" lengthAdjust="spacingAndGlyphs" >[Insulin] (nM)</text>
<line x1="341.50" y1="419.00" x2="341.50" y2="427.00" stroke="#000000" stroke-width="1.0" />
<line x1="338.70" y1="419.00" x2="344.30" y2="419.00" stroke="#000000" stroke-width="1.0" />
<line x1="338.70" y1="427.00" x2="344.30" y2="427.00" stroke="#000000" stroke-width="1.0" />
<circle cx="340.40" cy="418.60" r="2.8" fill="#000000"/>
<circle cx="340.40" cy="427.10" r="2.8" fill="#000000"/>
<circle cx="345.00" cy="422.90" r="2.8" fill="#000000"/>
<line x1="336.90" y1="422.90" x2="346.10" y2="422.90" stroke="#000000" stroke-width="1.6" />
<circle cx="355.20" cy="429.30" r="2.8" fill="#4fa4fa"/>
<circle cx="359.30" cy="424.20" r="2.8" fill="#4fa4fa"/>
<line x1="352.70" y1="426.60" x2="361.70" y2="426.60" stroke="#000000" stroke-width="1.6" />
<circle cx="369.70" cy="423.40" r="2.8" fill="#8b2fea" stroke="#3a1060" stroke-width="0.5"/>
<circle cx="374.20" cy="418.80" r="2.8" fill="#8b2fea" stroke="#3a1060" stroke-width="0.5"/>
<line x1="367.90" y1="421.00" x2="376.10" y2="421.00" stroke="#000000" stroke-width="1.6" />
<circle cx="384.50" cy="414.90" r="2.8" fill="#3d9c29" stroke="#1a3d10" stroke-width="0.5"/>
<circle cx="389.00" cy="410.80" r="2.8" fill="#3d9c29" stroke="#1a3d10" stroke-width="0.5"/>
<line x1="382.80" y1="412.70" x2="390.80" y2="412.70" stroke="#000000" stroke-width="1.6" />
<line x1="411.20" y1="444.70" x2="411.20" y2="469.20" stroke="#000000" stroke-width="1.0" />
<line x1="408.40" y1="444.70" x2="414.00" y2="444.70" stroke="#000000" stroke-width="1.0" />
<line x1="408.40" y1="469.20" x2="414.00" y2="469.20" stroke="#000000" stroke-width="1.0" />
<circle cx="411.20" cy="444.70" r="2.8" fill="#000000"/>
<circle cx="411.20" cy="459.60" r="2.8" fill="#000000"/>
<circle cx="411.20" cy="469.20" r="2.8" fill="#000000"/>
<line x1="406.20" y1="457.70" x2="416.20" y2="457.70" stroke="#000000" stroke-width="1.6" />
<circle cx="423.90" cy="459.00" r="2.8" fill="#4fa4fa"/>
<circle cx="428.50" cy="453.80" r="2.8" fill="#4fa4fa"/>
<line x1="421.60" y1="456.20" x2="430.80" y2="456.20" stroke="#000000" stroke-width="1.6" />
<circle cx="440.80" cy="446.60" r="2.8" fill="#8b2fea" stroke="#3a1060" stroke-width="0.5"/>
<circle cx="440.80" cy="457.20" r="2.8" fill="#8b2fea" stroke="#3a1060" stroke-width="0.5"/>
<line x1="436.10" y1="452.20" x2="445.50" y2="452.20" stroke="#000000" stroke-width="1.6" />
<line x1="455.20" y1="439.90" x2="455.20" y2="461.20" stroke="#000000" stroke-width="1.0" />
<line x1="452.40" y1="439.90" x2="458.00" y2="439.90" stroke="#000000" stroke-width="1.0" />
<line x1="452.40" y1="461.20" x2="458.00" y2="461.20" stroke="#000000" stroke-width="1.0" />
<circle cx="455.20" cy="442.90" r="2.8" fill="#3d9c29" stroke="#1a3d10" stroke-width="0.5"/>
<circle cx="455.20" cy="458.60" r="2.8" fill="#3d9c29" stroke="#1a3d10" stroke-width="0.5"/>
<line x1="450.60" y1="450.70" x2="459.80" y2="450.70" stroke="#000000" stroke-width="1.6" />
<circle cx="477.50" cy="465.00" r="2.8" fill="#000000"/>
<circle cx="482.70" cy="468.30" r="2.8" fill="#000000"/>
<circle cx="479.70" cy="474.20" r="2.8" fill="#000000"/>
<line x1="475.40" y1="469.20" x2="484.20" y2="469.20" stroke="#000000" stroke-width="1.6" />
<circle cx="492.70" cy="481.80" r="2.8" fill="#4fa4fa"/>
<circle cx="496.60" cy="480.70" r="2.8" fill="#4fa4fa"/>
<line x1="490.20" y1="481.30" x2="499.20" y2="481.30" stroke="#000000" stroke-width="1.6" />
<line x1="509.60" y1="451.00" x2="509.60" y2="489.10" stroke="#000000" stroke-width="1.0" />
<line x1="506.80" y1="451.00" x2="512.40" y2="451.00" stroke="#000000" stroke-width="1.0" />
<line x1="506.80" y1="489.10" x2="512.40" y2="489.10" stroke="#000000" stroke-width="1.0" />
<circle cx="509.60" cy="456.60" r="2.8" fill="#8b2fea" stroke="#3a1060" stroke-width="0.5"/>
<circle cx="509.60" cy="483.50" r="2.8" fill="#8b2fea" stroke="#3a1060" stroke-width="0.5"/>
<line x1="504.90" y1="470.10" x2="514.30" y2="470.10" stroke="#000000" stroke-width="1.6" />
<line x1="524.40" y1="445.50" x2="524.40" y2="502.20" stroke="#000000" stroke-width="1.0" />
<line x1="521.60" y1="445.50" x2="527.20" y2="445.50" stroke="#000000" stroke-width="1.0" />
<line x1="521.60" y1="502.20" x2="527.20" y2="502.20" stroke="#000000" stroke-width="1.0" />
<circle cx="524.40" cy="454.00" r="2.8" fill="#3d9c29" stroke="#1a3d10" stroke-width="0.5"/>
<circle cx="524.40" cy="493.90" r="2.8" fill="#3d9c29" stroke="#1a3d10" stroke-width="0.5"/>
<line x1="519.70" y1="474.20" x2="529.10" y2="474.20" stroke="#000000" stroke-width="1.6" />
<line x1="352.00" y1="388.00" x2="514.80" y2="388.00" stroke="#808080" stroke-width="1.7" />
<text x="433.45" y="380.90" font-size="12.6" text-anchor="middle" font-weight="bold" font-style="normal" fill="#000000" textLength="12.6" lengthAdjust="spacingAndGlyphs" >ns</text>
<line x1="557.50" y1="374.90" x2="579.60" y2="374.90" stroke="#000000" stroke-width="1.7" />
<circle cx="568.55" cy="374.90" r="3.7" fill="#000000"/>
<text x="589.40" y="380.00" font-size="14.2" text-anchor="start" font-weight="normal" font-style="normal" fill="#000000" textLength="77" lengthAdjust="spacingAndGlyphs" stroke="#000" stroke-width="0.1">Condition 1</text>
<line x1="557.50" y1="397.50" x2="579.60" y2="397.50" stroke="#4fa4fa" stroke-width="1.7" />
<circle cx="568.55" cy="397.50" r="3.7" fill="#4fa4fa"/>
<text x="589.40" y="402.60" font-size="14.2" text-anchor="start" font-weight="normal" font-style="normal" fill="#000000" textLength="65" lengthAdjust="spacingAndGlyphs" stroke="#000" stroke-width="0.1">C1 + FFA</text>
<line x1="557.50" y1="419.20" x2="579.60" y2="419.20" stroke="#8b2fea" stroke-width="1.7" />
<circle cx="568.55" cy="419.20" r="3.7" fill="#8b2fea"/>
<text x="589.40" y="424.30" font-size="14.2" text-anchor="start" font-weight="normal" font-style="normal" fill="#000000" textLength="92.2" lengthAdjust="spacingAndGlyphs" stroke="#000" stroke-width="0.1">C1 + G + FFA</text>
<line x1="557.50" y1="440.30" x2="579.60" y2="440.30" stroke="#3d9c29" stroke-width="1.7" />
<circle cx="568.55" cy="440.30" r="3.7" fill="#3d9c29"/>
<text x="589.40" y="445.40" font-size="14.2" text-anchor="start" font-weight="normal" font-style="normal" fill="#000000" textLength="78" lengthAdjust="spacingAndGlyphs" stroke="#000" stroke-width="0.1">Condition 2</text>
<line x1="68.80" y1="621.10" x2="68.80" y2="801.30" stroke="#000000" stroke-width="1.5" />
<line x1="64.60" y1="800.60" x2="68.80" y2="800.60" stroke="#000000" stroke-width="1.5" />
<text x="63.40" y="805.50" font-size="15.6" text-anchor="end" font-weight="normal" font-style="normal" fill="#000000" >0</text>
<line x1="64.60" y1="764.86" x2="68.80" y2="764.86" stroke="#000000" stroke-width="1.5" />
<text x="63.40" y="769.76" font-size="15.6" text-anchor="end" font-weight="normal" font-style="normal" fill="#000000" >20</text>
<line x1="64.60" y1="729.12" x2="68.80" y2="729.12" stroke="#000000" stroke-width="1.5" />
<text x="63.40" y="734.02" font-size="15.6" text-anchor="end" font-weight="normal" font-style="normal" fill="#000000" >40</text>
<line x1="64.60" y1="693.38" x2="68.80" y2="693.38" stroke="#000000" stroke-width="1.5" />
<text x="63.40" y="698.28" font-size="15.6" text-anchor="end" font-weight="normal" font-style="normal" fill="#000000" >60</text>
<line x1="64.60" y1="657.64" x2="68.80" y2="657.64" stroke="#000000" stroke-width="1.5" />
<text x="63.40" y="662.54" font-size="15.6" text-anchor="end" font-weight="normal" font-style="normal" fill="#000000" >80</text>
<line x1="64.60" y1="621.90" x2="68.80" y2="621.90" stroke="#000000" stroke-width="1.5" />
<text x="63.40" y="626.80" font-size="15.6" text-anchor="end" font-weight="normal" font-style="normal" fill="#000000" >100</text>
<text transform="translate(20.40,709.10) rotate(-90)" font-size="15" text-anchor="middle" fill="#000000" textLength="149.4" lengthAdjust="spacingAndGlyphs">% of Insulin Removed</text>
<text transform="translate(40.20,710.40) rotate(-90)" font-size="15" text-anchor="middle" fill="#000000" textLength="77" lengthAdjust="spacingAndGlyphs">from Media</text>
<text x="307.50" y="605.50" font-size="14.2" text-anchor="middle" font-weight="normal" font-style="normal" fill="#000000" textLength="98.3" lengthAdjust="spacingAndGlyphs" stroke="#000" stroke-width="0.2">Insulin Uptake</text>
<text x="308.40" y="856.20" font-size="16.2" text-anchor="middle" font-weight="normal" font-style="normal" fill="#000000" textLength="149.8" lengthAdjust="spacingAndGlyphs" >Hours from Seeding</text>
<line x1="63.30" y1="800.60" x2="217.50" y2="800.60" stroke="#000000" stroke-width="1.5" />
<line x1="217.50" y1="795.60" x2="217.50" y2="805.60" stroke="#000000" stroke-width="1.5" />
<line x1="79.10" y1="800.60" x2="79.10" y2="804.10" stroke="#000000" stroke-width="1.5" />
<text x="79.10" y="824.70" font-size="17.6" text-anchor="middle" font-weight="normal" font-style="normal" fill="#000000" >72</text>
<line x1="143.30" y1="800.60" x2="143.30" y2="804.10" stroke="#000000" stroke-width="1.5" />
<text x="143.30" y="824.70" font-size="17.6" text-anchor="middle" font-weight="normal" font-style="normal" fill="#000000" >96</text>
<line x1="207.50" y1="800.60" x2="207.50" y2="804.10" stroke="#000000" stroke-width="1.5" />
<text x="207.50" y="824.70" font-size="17.6" text-anchor="middle" font-weight="normal" font-style="normal" fill="#000000" >120</text>
<line x1="233.10" y1="800.60" x2="382.60" y2="800.60" stroke="#000000" stroke-width="1.5" />
<line x1="233.10" y1="795.60" x2="233.10" y2="805.60" stroke="#000000" stroke-width="1.5" />
<line x1="382.60" y1="795.60" x2="382.60" y2="805.60" stroke="#000000" stroke-width="1.5" />
<line x1="243.80" y1="800.60" x2="243.80" y2="804.10" stroke="#000000" stroke-width="1.5" />
<text x="243.80" y="822.50" font-size="17.6" text-anchor="middle" font-weight="normal" font-style="normal" fill="#000000" >216</text>
<line x1="308.00" y1="800.60" x2="308.00" y2="804.10" stroke="#000000" stroke-width="1.5" />
<text x="308.00" y="822.50" font-size="17.6" text-anchor="middle" font-weight="normal" font-style="normal" fill="#000000" >240</text>
<line x1="372.20" y1="800.60" x2="372.20" y2="804.10" stroke="#000000" stroke-width="1.5" />
<text x="372.20" y="822.50" font-size="17.6" text-anchor="middle" font-weight="normal" font-style="normal" fill="#000000" >264</text>
<line x1="398.10" y1="800.60" x2="548.00" y2="800.60" stroke="#000000" stroke-width="1.5" />
<line x1="398.10" y1="795.60" x2="398.10" y2="805.60" stroke="#000000" stroke-width="1.5" />
<line x1="408.80" y1="800.60" x2="408.80" y2="804.10" stroke="#000000" stroke-width="1.5" />
<text x="408.80" y="822.50" font-size="17.6" text-anchor="middle" font-weight="normal" font-style="normal" fill="#000000" >384</text>
<line x1="473.00" y1="800.60" x2="473.00" y2="804.10" stroke="#000000" stroke-width="1.5" />
<text x="473.00" y="822.50" font-size="17.6" text-anchor="middle" font-weight="normal" font-style="normal" fill="#000000" >408</text>
<line x1="537.20" y1="800.60" x2="537.20" y2="804.10" stroke="#000000" stroke-width="1.5" />
<text x="537.20" y="822.50" font-size="17.6" text-anchor="middle" font-weight="normal" font-style="normal" fill="#000000" >432</text>
<line x1="264.70" y1="636.30" x2="370.70" y2="636.30" stroke="#000000" stroke-width="1.4" />
<path d="M317.55,619.30V628.80M313.44,621.67L321.66,626.42M313.44,626.42L321.66,621.67" stroke="#000" stroke-width="1.5" fill="none"/>
<line x1="414.00" y1="636.40" x2="541.20" y2="636.40" stroke="#000000" stroke-width="1.4" />
<path d="M468.70,619.15V628.65M464.59,621.52L472.81,626.27M464.59,626.27L472.81,621.52" stroke="#000" stroke-width="1.5" fill="none"/>
<path d="M477.80,619.15V628.65M473.69,621.52L481.91,626.27M473.69,626.27L481.91,621.52" stroke="#000" stroke-width="1.5" fill="none"/>
<path d="M486.70,619.15V628.65M482.59,621.52L490.81,626.27M482.59,626.27L490.81,621.52" stroke="#000" stroke-width="1.5" fill="none"/>
<clipPath id="cc"><rect x="60" y="600" width="500" height="201.5"/></clipPath>
<line x1="84.45" y1="724.80" x2="84.45" y2="762.00" stroke="#000000" stroke-width="1.1" />
<line x1="81.25" y1="724.80" x2="87.65" y2="724.80" stroke="#000000" stroke-width="1.1" />
<line x1="81.25" y1="762.00" x2="87.65" y2="762.00" stroke="#000000" stroke-width="1.1" />
<line x1="89.80" y1="714.00" x2="89.80" y2="797.80" stroke="#000000" stroke-width="1.1" />
<line x1="86.60" y1="714.00" x2="93.00" y2="714.00" stroke="#000000" stroke-width="1.1" />
<line x1="86.60" y1="797.80" x2="93.00" y2="797.80" stroke="#000000" stroke-width="1.1" />
<line x1="89.80" y1="769.20" x2="89.80" y2="790.00" stroke="#000000" stroke-width="1.1" />
<line x1="86.60" y1="769.20" x2="93.00" y2="769.20" stroke="#000000" stroke-width="1.1" />
<line x1="86.60" y1="790.00" x2="93.00" y2="790.00" stroke="#000000" stroke-width="1.1" />
<line x1="100.50" y1="721.40" x2="100.50" y2="760.70" stroke="#000000" stroke-width="1.1" />
<line x1="97.30" y1="721.40" x2="103.70" y2="721.40" stroke="#000000" stroke-width="1.1" />
<line x1="97.30" y1="760.70" x2="103.70" y2="760.70" stroke="#000000" stroke-width="1.1" />
<line x1="143.30" y1="686.00" x2="143.30" y2="699.50" stroke="#000000" stroke-width="1.1" />
<line x1="140.10" y1="686.00" x2="146.50" y2="686.00" stroke="#000000" stroke-width="1.1" />
<line x1="140.10" y1="699.50" x2="146.50" y2="699.50" stroke="#000000" stroke-width="1.1" />
<line x1="204.82" y1="653.20" x2="204.82" y2="665.40" stroke="#000000" stroke-width="1.1" />
<line x1="201.62" y1="653.20" x2="208.02" y2="653.20" stroke="#000000" stroke-width="1.1" />
<line x1="201.62" y1="665.40" x2="208.02" y2="665.40" stroke="#000000" stroke-width="1.1" />
<path d="M79.10,800.60 L84.45,743.50 L89.80,731.10 L100.50,734.70 L143.30,683.30 L204.82,659.00 L207.50,800.60" fill="none" stroke="#4fa4fa" stroke-width="1.7" clip-path="url(#cc)" stroke-linejoin="round"/>
<path d="M79.10,800.60 L84.45,767.60 L89.80,740.60 L100.50,729.10 L143.30,679.80 L204.82,655.90 L207.50,800.60" fill="none" stroke="#8b2fea" stroke-width="1.7" clip-path="url(#cc)" stroke-linejoin="round"/>
<path d="M79.10,800.60 L84.45,759.30 L89.80,758.90 L100.50,732.70 L143.30,686.70 L204.82,647.40 L207.50,800.60" fill="none" stroke="#3d9c29" stroke-width="1.7" clip-path="url(#cc)" stroke-linejoin="round"/>
<path d="M79.10,800.60 L84.45,800.60 L89.80,783.00 L100.50,746.90 L143.30,692.10 L204.82,661.30 L207.50,800.60" fill="none" stroke="#000000" stroke-width="1.7" clip-path="url(#cc)" stroke-linejoin="round"/>
<circle cx="79.10" cy="800.60" r="3.6" fill="#4fa4fa"/>
<circle cx="84.45" cy="743.50" r="3.6" fill="#4fa4fa"/>
<circle cx="89.80" cy="731.10" r="3.6" fill="#4fa4fa"/>
<circle cx="100.50" cy="734.70" r="3.6" fill="#4fa4fa"/>
<circle cx="143.30" cy="683.30" r="3.6" fill="#4fa4fa"/>
<circle cx="204.82" cy="659.00" r="3.6" fill="#4fa4fa"/>
<circle cx="207.50" cy="800.60" r="3.6" fill="#4fa4fa"/>
<circle cx="79.10" cy="800.60" r="3.6" fill="#3d9c29"/>
<circle cx="84.45" cy="759.30" r="3.6" fill="#3d9c29"/>
<circle cx="89.80" cy="758.90" r="3.6" fill="#3d9c29"/>
<circle cx="100.50" cy="732.70" r="3.6" fill="#3d9c29"/>
<circle cx="143.30" cy="686.70" r="3.6" fill="#3d9c29"/>
<circle cx="204.82" cy="647.40" r="3.6" fill="#3d9c29"/>
<circle cx="207.50" cy="800.60" r="3.6" fill="#3d9c29"/>
<circle cx="79.10" cy="800.60" r="3.6" fill="#8b2fea"/>
<circle cx="84.45" cy="767.60" r="3.6" fill="#8b2fea"/>
<circle cx="89.80" cy="740.60" r="3.6" fill="#8b2fea"/>
<circle cx="100.50" cy="729.10" r="3.6" fill="#8b2fea"/>
<circle cx="143.30" cy="679.80" r="3.6" fill="#8b2fea"/>
<circle cx="204.82" cy="655.90" r="3.6" fill="#8b2fea"/>
<circle cx="207.50" cy="800.60" r="3.6" fill="#8b2fea"/>
<circle cx="79.10" cy="800.60" r="3.6" fill="#000000"/>
<circle cx="89.80" cy="783.00" r="3.6" fill="#000000"/>
<circle cx="100.50" cy="746.90" r="3.6" fill="#000000"/>
<circle cx="143.30" cy="692.10" r="3.6" fill="#000000"/>
<circle cx="204.82" cy="661.30" r="3.6" fill="#000000"/>
<circle cx="207.50" cy="800.60" r="3.6" fill="#000000"/>
<line x1="249.15" y1="745.00" x2="249.15" y2="765.00" stroke="#000000" stroke-width="1.1" />
<line x1="245.95" y1="745.00" x2="252.35" y2="745.00" stroke="#000000" stroke-width="1.1" />
<line x1="245.95" y1="765.00" x2="252.35" y2="765.00" stroke="#000000" stroke-width="1.1" />
<line x1="254.50" y1="729.90" x2="254.50" y2="768.00" stroke="#000000" stroke-width="1.1" />
<line x1="251.30" y1="729.90" x2="257.70" y2="729.90" stroke="#000000" stroke-width="1.1" />
<line x1="251.30" y1="768.00" x2="257.70" y2="768.00" stroke="#000000" stroke-width="1.1" />
<line x1="265.20" y1="740.00" x2="265.20" y2="749.00" stroke="#000000" stroke-width="1.1" />
<line x1="262.00" y1="740.00" x2="268.40" y2="740.00" stroke="#000000" stroke-width="1.1" />
<line x1="262.00" y1="749.00" x2="268.40" y2="749.00" stroke="#000000" stroke-width="1.1" />
<line x1="308.00" y1="687.00" x2="308.00" y2="713.00" stroke="#000000" stroke-width="1.1" />
<line x1="304.80" y1="687.00" x2="311.20" y2="687.00" stroke="#000000" stroke-width="1.1" />
<line x1="304.80" y1="713.00" x2="311.20" y2="713.00" stroke="#000000" stroke-width="1.1" />
<line x1="369.52" y1="660.00" x2="369.52" y2="713.00" stroke="#000000" stroke-width="1.1" />
<line x1="366.32" y1="660.00" x2="372.72" y2="660.00" stroke="#000000" stroke-width="1.1" />
<line x1="366.32" y1="713.00" x2="372.72" y2="713.00" stroke="#000000" stroke-width="1.1" />
<line x1="369.52" y1="675.00" x2="369.52" y2="690.00" stroke="#000000" stroke-width="1.1" />
<line x1="366.32" y1="675.00" x2="372.72" y2="675.00" stroke="#000000" stroke-width="1.1" />
<line x1="366.32" y1="690.00" x2="372.72" y2="690.00" stroke="#000000" stroke-width="1.1" />
<path d="M243.80,800.60 L249.15,798.00 L254.50,748.40 L265.20,736.30 L308.00,706.60 L369.52,666.90 L372.20,800.60" fill="none" stroke="#4fa4fa" stroke-width="1.7" clip-path="url(#cc)" stroke-linejoin="round"/>
<path d="M243.80,800.60 L249.15,779.00 L254.50,753.50 L265.20,744.00 L308.00,695.80 L369.52,655.30 L372.20,800.60" fill="none" stroke="#8b2fea" stroke-width="1.7" clip-path="url(#cc)" stroke-linejoin="round"/>
<path d="M243.80,800.60 L249.15,787.90 L254.50,780.30 L265.20,787.60 L308.00,736.40 L369.52,698.70 L372.20,800.60" fill="none" stroke="#3d9c29" stroke-width="1.7" clip-path="url(#cc)" stroke-linejoin="round"/>
<path d="M243.80,800.60 L249.15,755.40 L254.50,761.80 L265.20,724.80 L308.00,694.40 L369.52,668.30 L372.20,800.60" fill="none" stroke="#000000" stroke-width="1.7" clip-path="url(#cc)" stroke-linejoin="round"/>
<circle cx="243.80" cy="800.60" r="3.6" fill="#4fa4fa"/>
<circle cx="254.50" cy="748.40" r="3.6" fill="#4fa4fa"/>
<circle cx="265.20" cy="736.30" r="3.6" fill="#4fa4fa"/>
<circle cx="308.00" cy="706.60" r="3.6" fill="#4fa4fa"/>
<circle cx="369.52" cy="666.90" r="3.6" fill="#4fa4fa"/>
<circle cx="372.20" cy="800.60" r="3.6" fill="#4fa4fa"/>
<circle cx="243.80" cy="800.60" r="3.6" fill="#3d9c29"/>
<circle cx="249.15" cy="787.90" r="3.6" fill="#3d9c29"/>
<circle cx="254.50" cy="780.30" r="3.6" fill="#3d9c29"/>
<circle cx="265.20" cy="787.60" r="3.6" fill="#3d9c29"/>
<circle cx="308.00" cy="736.40" r="3.6" fill="#3d9c29"/>
<circle cx="369.52" cy="698.70" r="3.6" fill="#3d9c29"/>
<circle cx="372.20" cy="800.60" r="3.6" fill="#3d9c29"/>
<circle cx="243.80" cy="800.60" r="3.6" fill="#8b2fea"/>
<circle cx="249.15" cy="779.00" r="3.6" fill="#8b2fea"/>
<circle cx="254.50" cy="753.50" r="3.6" fill="#8b2fea"/>
<circle cx="265.20" cy="744.00" r="3.6" fill="#8b2fea"/>
<circle cx="308.00" cy="695.80" r="3.6" fill="#8b2fea"/>
<circle cx="369.52" cy="655.30" r="3.6" fill="#8b2fea"/>
<circle cx="372.20" cy="800.60" r="3.6" fill="#8b2fea"/>
<circle cx="243.80" cy="800.60" r="3.6" fill="#000000"/>
<circle cx="249.15" cy="755.40" r="3.6" fill="#000000"/>
<circle cx="254.50" cy="761.80" r="3.6" fill="#000000"/>
<circle cx="265.20" cy="724.80" r="3.6" fill="#000000"/>
<circle cx="308.00" cy="694.40" r="3.6" fill="#000000"/>
<circle cx="369.52" cy="668.30" r="3.6" fill="#000000"/>
<circle cx="372.20" cy="800.60" r="3.6" fill="#000000"/>
<line x1="414.15" y1="752.00" x2="414.15" y2="790.00" stroke="#000000" stroke-width="1.1" />
<line x1="410.95" y1="752.00" x2="417.35" y2="752.00" stroke="#000000" stroke-width="1.1" />
<line x1="410.95" y1="790.00" x2="417.35" y2="790.00" stroke="#000000" stroke-width="1.1" />
<line x1="419.50" y1="745.00" x2="419.50" y2="772.00" stroke="#000000" stroke-width="1.1" />
<line x1="416.30" y1="745.00" x2="422.70" y2="745.00" stroke="#000000" stroke-width="1.1" />
<line x1="416.30" y1="772.00" x2="422.70" y2="772.00" stroke="#000000" stroke-width="1.1" />
<line x1="430.20" y1="732.00" x2="430.20" y2="745.00" stroke="#000000" stroke-width="1.1" />
<line x1="427.00" y1="732.00" x2="433.40" y2="732.00" stroke="#000000" stroke-width="1.1" />
<line x1="427.00" y1="745.00" x2="433.40" y2="745.00" stroke="#000000" stroke-width="1.1" />
<line x1="430.20" y1="758.00" x2="430.20" y2="766.00" stroke="#000000" stroke-width="1.1" />
<line x1="427.00" y1="758.00" x2="433.40" y2="758.00" stroke="#000000" stroke-width="1.1" />
<line x1="427.00" y1="766.00" x2="433.40" y2="766.00" stroke="#000000" stroke-width="1.1" />
<line x1="473.00" y1="723.00" x2="473.00" y2="741.00" stroke="#000000" stroke-width="1.1" />
<line x1="469.80" y1="723.00" x2="476.20" y2="723.00" stroke="#000000" stroke-width="1.1" />
<line x1="469.80" y1="741.00" x2="476.20" y2="741.00" stroke="#000000" stroke-width="1.1" />
<line x1="473.00" y1="764.00" x2="473.00" y2="777.00" stroke="#000000" stroke-width="1.1" />
<line x1="469.80" y1="764.00" x2="476.20" y2="764.00" stroke="#000000" stroke-width="1.1" />
<line x1="469.80" y1="777.00" x2="476.20" y2="777.00" stroke="#000000" stroke-width="1.1" />
<line x1="473.00" y1="700.00" x2="473.00" y2="712.00" stroke="#000000" stroke-width="1.1" />
<line x1="469.80" y1="700.00" x2="476.20" y2="700.00" stroke="#000000" stroke-width="1.1" />
<line x1="469.80" y1="712.00" x2="476.20" y2="712.00" stroke="#000000" stroke-width="1.1" />
<line x1="537.20" y1="673.90" x2="537.20" y2="697.00" stroke="#000000" stroke-width="1.1" />
<line x1="534.00" y1="673.90" x2="540.40" y2="673.90" stroke="#000000" stroke-width="1.1" />
<line x1="534.00" y1="697.00" x2="540.40" y2="697.00" stroke="#000000" stroke-width="1.1" />
<line x1="537.20" y1="760.00" x2="537.20" y2="780.20" stroke="#000000" stroke-width="1.1" />
<line x1="534.00" y1="760.00" x2="540.40" y2="760.00" stroke="#000000" stroke-width="1.1" />
<line x1="534.00" y1="780.20" x2="540.40" y2="780.20" stroke="#000000" stroke-width="1.1" />
<line x1="537.20" y1="695.00" x2="537.20" y2="707.00" stroke="#000000" stroke-width="1.1" />
<line x1="534.00" y1="695.00" x2="540.40" y2="695.00" stroke="#000000" stroke-width="1.1" />
<line x1="534.00" y1="707.00" x2="540.40" y2="707.00" stroke="#000000" stroke-width="1.1" />
<path d="M408.80,800.60 L414.15,770.10 L419.50,756.50 L430.20,756.00 L473.00,732.90 L537.20,685.70" fill="none" stroke="#4fa4fa" stroke-width="1.7" clip-path="url(#cc)" stroke-linejoin="round"/>
<path d="M408.80,800.60 L414.15,759.10 L419.50,759.10 L430.20,738.80 L473.00,714.70 L537.20,701.10" fill="none" stroke="#8b2fea" stroke-width="1.7" clip-path="url(#cc)" stroke-linejoin="round"/>
<path d="M408.80,800.60 L414.15,799.30 L419.50,806.00 L430.20,804.30 L473.00,770.60 L537.20,768.80" fill="none" stroke="#3d9c29" stroke-width="1.7" clip-path="url(#cc)" stroke-linejoin="round"/>
<path d="M408.80,800.60 L414.15,761.70 L419.50,763.80 L430.20,762.00 L473.00,706.80 L537.20,685.70" fill="none" stroke="#000000" stroke-width="1.7" clip-path="url(#cc)" stroke-linejoin="round"/>
<circle cx="408.80" cy="800.60" r="3.6" fill="#4fa4fa"/>
<circle cx="414.15" cy="770.10" r="3.6" fill="#4fa4fa"/>
<circle cx="419.50" cy="756.50" r="3.6" fill="#4fa4fa"/>
<circle cx="430.20" cy="756.00" r="3.6" fill="#4fa4fa"/>
<circle cx="473.00" cy="732.90" r="3.6" fill="#4fa4fa"/>
<circle cx="537.20" cy="685.70" r="3.6" fill="#4fa4fa"/>
<circle cx="408.80" cy="800.60" r="3.6" fill="#3d9c29"/>
<circle cx="414.15" cy="799.30" r="3.6" fill="#3d9c29"/>
<circle cx="473.00" cy="770.60" r="3.6" fill="#3d9c29"/>
<circle cx="537.20" cy="768.80" r="3.6" fill="#3d9c29"/>
<circle cx="408.80" cy="800.60" r="3.6" fill="#8b2fea"/>
<circle cx="414.15" cy="759.10" r="3.6" fill="#8b2fea"/>
<circle cx="419.50" cy="759.10" r="3.6" fill="#8b2fea"/>
<circle cx="430.20" cy="738.80" r="3.6" fill="#8b2fea"/>
<circle cx="473.00" cy="714.70" r="3.6" fill="#8b2fea"/>
<circle cx="537.20" cy="701.10" r="3.6" fill="#8b2fea"/>
<circle cx="408.80" cy="800.60" r="3.6" fill="#000000"/>
<circle cx="414.15" cy="761.70" r="3.6" fill="#000000"/>
<circle cx="419.50" cy="763.80" r="3.6" fill="#000000"/>
<circle cx="430.20" cy="762.00" r="3.6" fill="#000000"/>
<circle cx="473.00" cy="706.80" r="3.6" fill="#000000"/>
<circle cx="537.20" cy="685.70" r="3.6" fill="#000000"/>
<line x1="559.00" y1="633.60" x2="579.80" y2="633.60" stroke="#000000" stroke-width="1.7" />
<circle cx="569.40" cy="633.60" r="3.7" fill="#000000"/>
<text x="588.20" y="638.10" font-size="14.2" text-anchor="start" font-weight="normal" font-style="normal" fill="#000000" textLength="76.8" lengthAdjust="spacingAndGlyphs" stroke="#000" stroke-width="0.1">Condition 1</text>
<line x1="559.00" y1="655.80" x2="579.80" y2="655.80" stroke="#4fa4fa" stroke-width="1.7" />
<circle cx="569.40" cy="655.80" r="3.7" fill="#4fa4fa"/>
<text x="588.20" y="660.30" font-size="14.2" text-anchor="start" font-weight="normal" font-style="normal" fill="#000000" textLength="65" lengthAdjust="spacingAndGlyphs" stroke="#000" stroke-width="0.1">C1 + FFA</text>
<line x1="559.00" y1="677.70" x2="579.80" y2="677.70" stroke="#8b2fea" stroke-width="1.7" />
<circle cx="569.40" cy="677.70" r="3.7" fill="#8b2fea"/>
<text x="588.20" y="682.20" font-size="14.2" text-anchor="start" font-weight="normal" font-style="normal" fill="#000000" textLength="94" lengthAdjust="spacingAndGlyphs" stroke="#000" stroke-width="0.1">C1 + G + FFA</text>
<line x1="559.00" y1="698.80" x2="579.80" y2="698.80" stroke="#3d9c29" stroke-width="1.7" />
<circle cx="569.40" cy="698.80" r="3.7" fill="#3d9c29"/>
<text x="588.20" y="703.30" font-size="14.2" text-anchor="start" font-weight="normal" font-style="normal" fill="#000000" textLength="77.9" lengthAdjust="spacingAndGlyphs" stroke="#000" stroke-width="0.1">Condition 2</text>
</svg></body></html>
